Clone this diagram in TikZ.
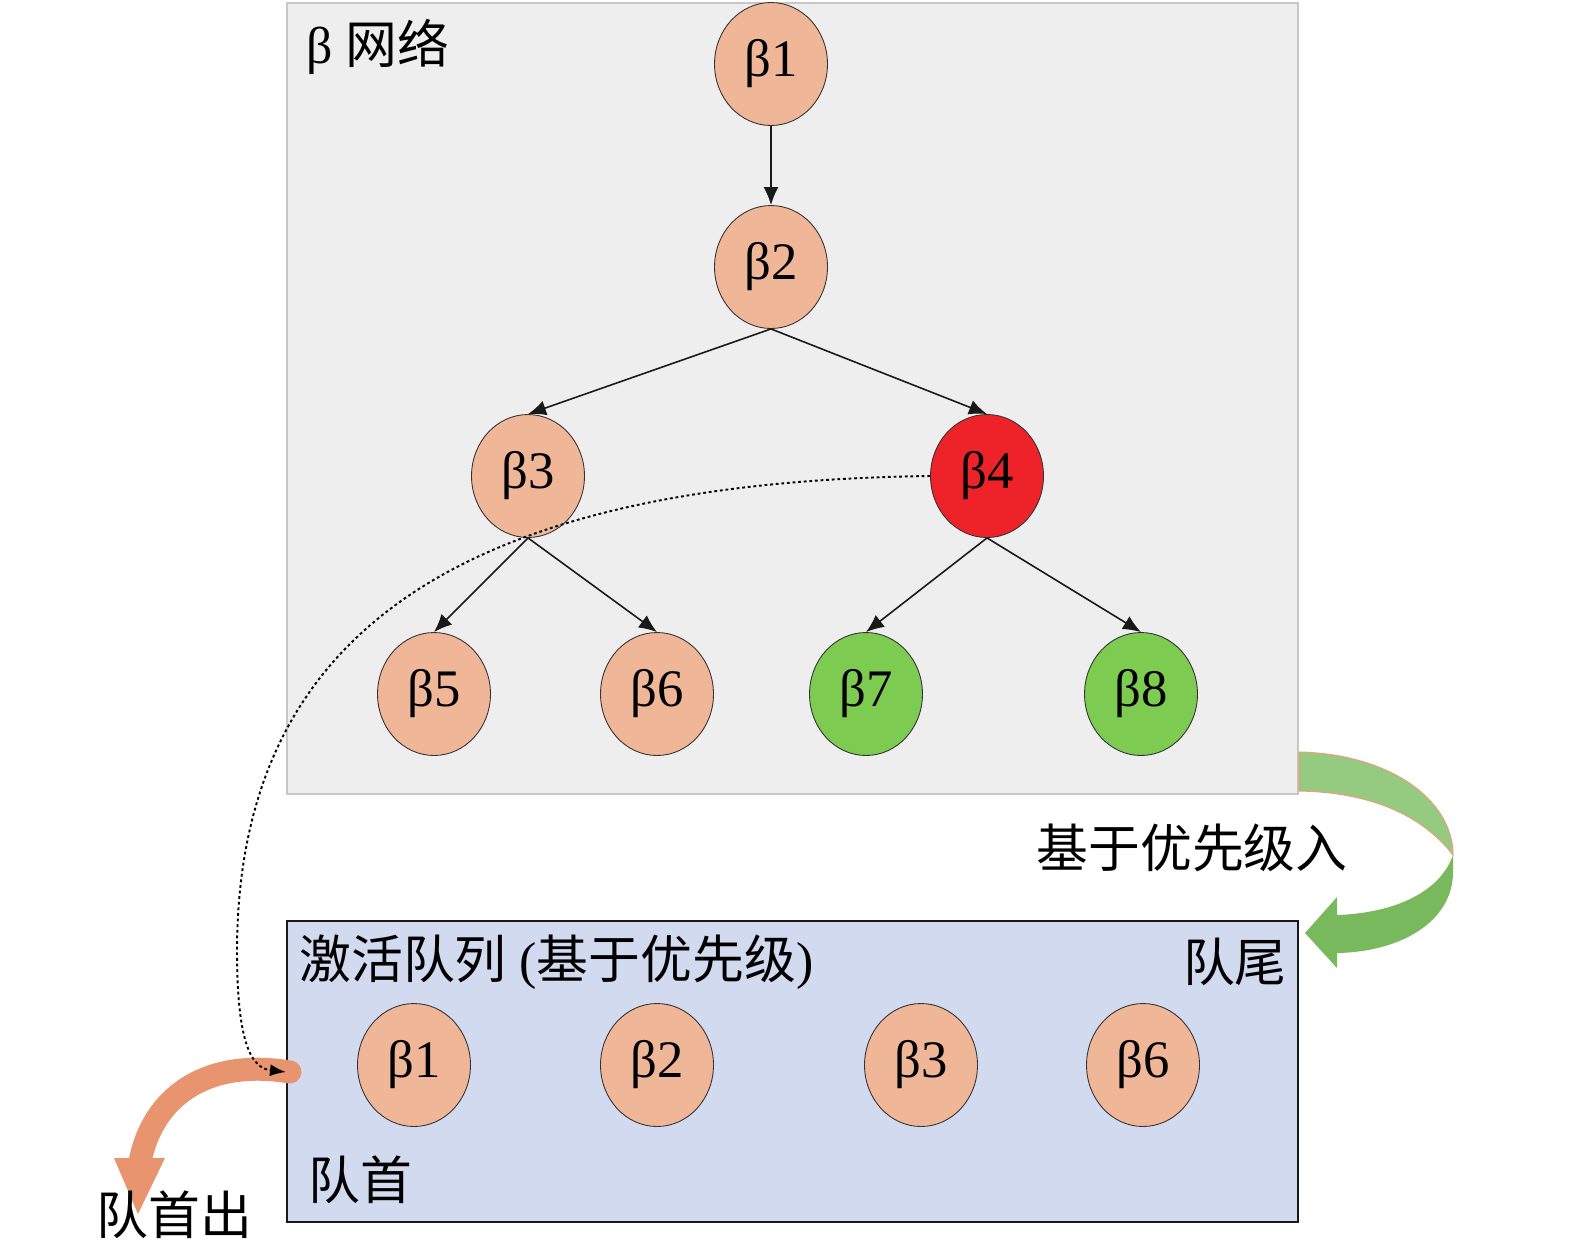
\documentclass[tikz,border=0pt]{standalone}
\usepackage{fontspec}
\setmainfont{Liberation Serif}
\newfontfamily\cjk{Noto Sans CJK SC}
\usetikzlibrary{shapes.geometric,arrows.meta}
\definecolor{peach}{HTML}{F0B698}
\definecolor{hotred}{HTML}{EE2229}
\definecolor{leaf}{HTML}{7DCB50}
\definecolor{panelgray}{HTML}{EEEEEE}
\definecolor{panelblue}{HTML}{D1DAEE}
\definecolor{lightgreen}{HTML}{95CB80}
\definecolor{darkgreen}{HTML}{79B95D}
\definecolor{outorange}{HTML}{E8956F}
\definecolor{rimorange}{HTML}{E8A07C}
\begin{document}
\begin{tikzpicture}[x=0.02cm,y=-0.02cm,
  bnode/.style={ellipse, draw=black!80, line width=0.5pt, minimum width=2.26cm,
    minimum height=2.46cm, inner sep=0pt, fill=peach, font=\fontsize{30}{36}\selectfont},
  tedge/.style={draw=black!90, line width=0.9pt, -{Latex[length=0.36cm,width=0.3cm]}},
  lbl/.style={inner sep=0pt, font=\fontsize{29.5}{34}\selectfont}]
\useasboundingbox (0,0) rectangle (1575,1252);
% network panel
\draw[draw=black!22, fill=panelgray, line width=0.6pt] (287,3) rectangle (1298,794);
\node[lbl, anchor=west] (nettitle) at (306,47) {β {\cjk 网络}};
\node[bnode] (b1) at (771,64) {β1};
\node[bnode] (b2) at (771,267) {β2};
\node[bnode] (b3) at (528,476) {β3};
\node[bnode, fill=hotred] (b4) at (987,476) {β4};
\node[bnode] (b5) at (434,694) {β5};
\node[bnode] (b6) at (657,694) {β6};
\node[bnode, fill=leaf] (b7) at (866,694) {β7};
\node[bnode, fill=leaf] (b8) at (1141,694) {β8};
\draw[tedge] (b1.south) -- (b2.north);
\draw[tedge] (b2.south) -- (b3.north);
\draw[tedge] (b2.south) -- (b4.north);
\draw[tedge] (b3.south) -- (b5.north);
\draw[tedge] (b3.south) -- (b6.north);
\draw[tedge] (b4.south) -- (b7.north);
\draw[tedge] (b4.south) -- (b8.north);
% queue panel
\draw[draw=black!90, fill=panelblue, line width=1.4pt] (287,921) rectangle (1298,1222);
\node[lbl, anchor=west] (qtitle) at (299,962) {{\cjk 激活队列} ({\cjk 基于优先级})};
\node[lbl, anchor=east] (qtail) at (1287,962) {\cjk 队尾};
\node[lbl, anchor=west] (qhead) at (308,1180) {\cjk 队首};
\node[bnode] (q1) at (414,1065) {β1};
\node[bnode] (q2) at (657,1065) {β2};
\node[bnode] (q3) at (921,1065) {β3};
\node[bnode] (q6) at (1143,1065) {β6};
% enqueue arrow (green)
\fill[darkgreen] (1453,855) -- (1453,872) .. controls (1453,922) and (1400,952) .. (1337,953)
  -- (1337,968) -- (1305,933) -- (1337,897) -- (1337,915)
  .. controls (1395,913) and (1440,892) .. (1453,855) -- cycle;
\draw[fill=lightgreen, draw=rimorange, line width=0.6pt]
  (1299,752) .. controls (1390,754) and (1453,800) .. (1453,855)
  .. controls (1422,815) and (1370,792) .. (1299,791) -- cycle;
\node[lbl] (enq) at (1192,848) {\cjk 基于优先级入};
% dequeue arrow (orange)
\coordinate (qin) at (286,1072);
\coordinate (bend) at (140,1162);
\draw[outorange, line width=0.46cm, line cap=round] (290,1072) .. controls (205,1058) and (152,1098) .. (bend);
\fill[outorange] (114,1158) -- (165,1158) -- (138,1214) -- cycle;
\node[lbl, anchor=west] (deq) at (96,1215) {\cjk 队首出};
% dotted move
\draw[dash pattern=on 1.6pt off 1.6pt, line width=1.1pt, -{Latex[length=0.32cm,width=0.24cm]}]
  (b4.west) .. controls (450,482) and (238,640) .. (237,950)
  .. controls (237,1040) and (250,1068) .. (qin);
\end{tikzpicture}
\end{document}
